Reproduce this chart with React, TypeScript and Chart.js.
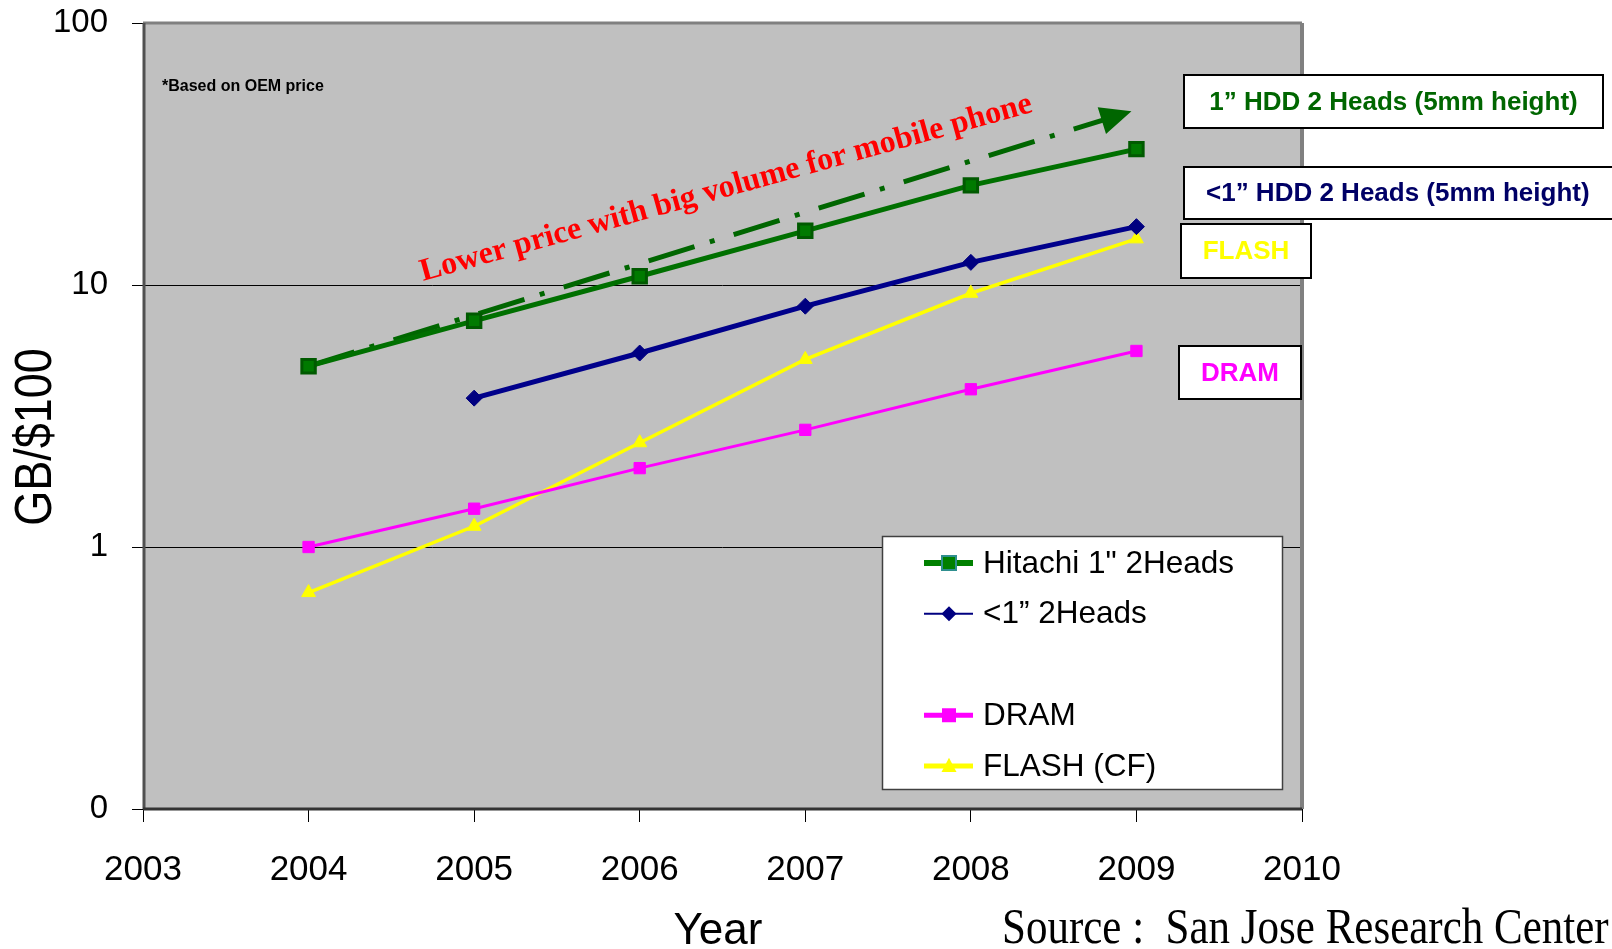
import React, { useEffect, useRef } from 'react';
import { Chart, registerables } from 'chart.js';

Chart.register(...registerables);

// ---------- data ----------
const years = [2004, 2005, 2006, 2007, 2008, 2009];
const hitachi1in = [4.9, 7.3, 10.8, 16.1, 24, 33];
const sub1in: (number | null)[] = [null, 3.7, 5.5, 8.3, 12.2, 16.7];
const dram = [1.0, 1.4, 2.0, 2.8, 4.0, 5.6];
const flashCF = [0.67, 1.2, 2.5, 5.2, 9.3, 15];

const trendX = [2004, 2008.97];
const trendY = [4.9, 46];

const xTickValues = [2003, 2004, 2005, 2006, 2007, 2008, 2009, 2010];
const xTickLabels = ['2003', '2004', '2005', '2006', '2007', '2008', '2009', '2010'];
const yTickValues = [0.1, 1, 10, 100];
const yTickLabels = ['0', '1', '10', '100'];

const seriesNames = ['Hitachi 1" 2Heads', '<1\u201D 2Heads', 'DRAM', 'FLASH (CF)'];
const legendRows = ['Hitachi 1" 2Heads', '<1\u201D 2Heads', '', 'DRAM', 'FLASH (CF)'];
const calloutLabels = [
  '1\u201D HDD 2 Heads (5mm height)',
  '<1\u201D HDD 2 Heads (5mm height)',
  'FLASH',
  'DRAM',
];
const trendLabel = 'Lower price with big volume for mobile phone';
const noteLabel = '*Based on OEM price';
const xTitle = 'Year';
const yTitle = 'GB/$100';
const sourceLabel = 'Source :  San Jose Research Center';

// ---------- styles ----------
const SANS = '"Liberation Sans", Arial, sans-serif';
const SERIF = '"Liberation Serif", "Times New Roman", serif';
const GREEN = '#007000';
const NAVY = '#00008B';
const MAGENTA = '#FF00FF';
const YELLOW = '#FFFF00';

function toPoints(vals: (number | null)[]) {
  const out: { x: number; y: number }[] = [];
  vals.forEach((v, i) => {
    if (v !== null) out.push({ x: years[i], y: v });
  });
  return out;
}

function drawMarker(ctx: CanvasRenderingContext2D, style: string, x: number, y: number, fill: string, stroke: string, size: number, bw: number) {
  ctx.save();
  ctx.fillStyle = fill;
  ctx.strokeStyle = stroke;
  ctx.lineWidth = bw;
  ctx.beginPath();
  if (style === 'rect') {
    ctx.rect(x - size / 2, y - size / 2, size, size);
  } else if (style === 'diamond') {
    ctx.moveTo(x, y - size / 2);
    ctx.lineTo(x + size / 2, y);
    ctx.lineTo(x, y + size / 2);
    ctx.lineTo(x - size / 2, y);
    ctx.closePath();
  } else if (style === 'triangle') {
    ctx.moveTo(x, y - size * 0.55);
    ctx.lineTo(x + size / 2, y + size * 0.4);
    ctx.lineTo(x - size / 2, y + size * 0.4);
    ctx.closePath();
  }
  ctx.fill();
  if (bw > 0) ctx.stroke();
  ctx.restore();
}

const decorPlugin = {
  id: 'decor',
  beforeDraw(chart: any) {
    const { ctx, chartArea: a } = chart;
    ctx.save();
    ctx.fillStyle = '#C0C0C0';
    ctx.fillRect(a.left, a.top, a.right - a.left, a.bottom - a.top);
    ctx.restore();
  },
  beforeDatasetsDraw(chart: any) {
    const { ctx, chartArea: a } = chart;
    ctx.save();
    // plot frame
    ctx.strokeStyle = '#808080';
    ctx.lineWidth = 3;
    ctx.beginPath();
    ctx.moveTo(a.left, a.top);
    ctx.lineTo(a.right, a.top);
    ctx.stroke();
    ctx.lineWidth = 4;
    ctx.beginPath();
    ctx.moveTo(a.right, a.top);
    ctx.lineTo(a.right, a.bottom);
    ctx.stroke();
    ctx.strokeStyle = '#505050';
    ctx.lineWidth = 3;
    ctx.beginPath();
    ctx.moveTo(a.left + 1, a.top);
    ctx.lineTo(a.left + 1, a.bottom);
    ctx.stroke();
    ctx.strokeStyle = '#333333';
    ctx.beginPath();
    ctx.moveTo(a.left, a.bottom);
    ctx.lineTo(a.right, a.bottom);
    ctx.stroke();

    // dash-dot trend arrow
    const xs = chart.scales.x;
    const ys = chart.scales.y;
    const x0 = xs.getPixelForValue(trendX[0]);
    const y0 = ys.getPixelForValue(trendY[0]);
    const x1 = xs.getPixelForValue(trendX[1]);
    const y1 = ys.getPixelForValue(trendY[1]);
    const ang = Math.atan2(y1 - y0, x1 - x0);
    const headLen = 31;
    const headHalf = 14;
    const bx = x1 - headLen * Math.cos(ang);
    const by = y1 - headLen * Math.sin(ang);
    ctx.strokeStyle = '#006600';
    ctx.fillStyle = '#006600';
    ctx.lineWidth = 5;
    ctx.setLineDash([48, 16, 5, 20]);
    ctx.beginPath();
    ctx.moveTo(x0, y0);
    ctx.lineTo(bx + 2 * Math.cos(ang), by + 2 * Math.sin(ang));
    ctx.stroke();
    ctx.setLineDash([]);
    ctx.beginPath();
    ctx.moveTo(x1, y1);
    ctx.lineTo(bx + headHalf * Math.sin(ang), by - headHalf * Math.cos(ang));
    ctx.lineTo(bx - headHalf * Math.sin(ang), by + headHalf * Math.cos(ang));
    ctx.closePath();
    ctx.fill();
    ctx.restore();
  },
  afterDatasetsDraw(chart: any) {
    const { ctx } = chart;
    ctx.save();
    // rotated red annotation
    ctx.translate(423, 281);
    ctx.rotate((-15.5 * Math.PI) / 180);
    ctx.font = `bold 32px ${SERIF}`;
    ctx.fillStyle = '#FF0000';
    ctx.textAlign = 'left';
    ctx.textBaseline = 'alphabetic';
    ctx.fillText(trendLabel, 0, 0);
    ctx.restore();

    ctx.save();
    ctx.font = `bold 16px ${SANS}`;
    ctx.fillStyle = '#000';
    ctx.textBaseline = 'middle';
    ctx.fillText(noteLabel, 162, 87);
    ctx.restore();
  },
  afterDraw(chart: any) {
    const { ctx } = chart;
    // ---- legend ----
    ctx.save();
    ctx.fillStyle = '#FFFFFF';
    ctx.fillRect(882, 536, 401, 254);
    ctx.strokeStyle = '#404040';
    ctx.lineWidth = 1.5;
    ctx.strokeRect(882.5, 536.5, 400, 253);
    const rowY0 = 563;
    const pitch = 50.75;
    const sym = [
      { line: '#008000', lw: 6, style: 'rect', fill: '#008000', stroke: '#2F8F8F', size: 14, bw: 2 },
      { line: '#000080', lw: 2, style: 'diamond', fill: '#000080', stroke: '#000080', size: 15, bw: 0 },
      null,
      { line: MAGENTA, lw: 5, style: 'rect', fill: MAGENTA, stroke: MAGENTA, size: 14, bw: 0 },
      { line: YELLOW, lw: 5, style: 'triangle', fill: YELLOW, stroke: YELLOW, size: 15, bw: 0 },
    ];
    ctx.font = `31.5px ${SANS}`;
    ctx.textBaseline = 'middle';
    ctx.textAlign = 'left';
    legendRows.forEach((label, i) => {
      const y = rowY0 + i * pitch;
      const s = sym[i];
      if (s) {
        ctx.strokeStyle = s.line;
        ctx.lineWidth = s.lw;
        ctx.beginPath();
        ctx.moveTo(924, y);
        ctx.lineTo(973, y);
        ctx.stroke();
        drawMarker(ctx, s.style, 949, y, s.fill, s.stroke, s.size, s.bw);
      }
      if (label) {
        ctx.fillStyle = '#000';
        ctx.fillText(label, 983, y + 1);
      }
    });
    ctx.restore();

    // ---- callout boxes ----
    const boxes = [
      { x: 1184, y: 75, w: 419, h: 53, color: '#006600', align: 'center' },
      { x: 1184, y: 167, w: 440, h: 52, color: '#000066', align: 'left' },
      { x: 1181, y: 224, w: 130, h: 54, color: YELLOW, align: 'center' },
      { x: 1179, y: 346, w: 122, h: 53, color: MAGENTA, align: 'center' },
    ];
    ctx.save();
    ctx.font = `bold 26px ${SANS}`;
    ctx.textBaseline = 'middle';
    boxes.forEach((b, i) => {
      ctx.fillStyle = '#FFFFFF';
      ctx.fillRect(b.x, b.y, b.w, b.h);
      ctx.strokeStyle = '#000';
      ctx.lineWidth = 2;
      ctx.strokeRect(b.x, b.y, b.w, b.h);
      ctx.fillStyle = b.color;
      if (b.align === 'center') {
        ctx.textAlign = 'center';
        ctx.fillText(calloutLabels[i], b.x + b.w / 2, b.y + b.h / 2 + 1);
      } else {
        ctx.textAlign = 'left';
        ctx.fillText(calloutLabels[i], 1206, b.y + b.h / 2 + 1);
      }
    });
    ctx.restore();

    // ---- axis titles & source ----
    ctx.save();
    ctx.fillStyle = '#000';
    ctx.translate(34, 437);
    ctx.rotate(-Math.PI / 2);
    ctx.scale(1, 1.15);
    ctx.font = `45px ${SANS}`;
    ctx.textAlign = 'center';
    ctx.textBaseline = 'middle';
    ctx.fillText(yTitle, 0, 2);
    ctx.restore();

    ctx.save();
    ctx.fillStyle = '#000';
    ctx.font = `44px ${SANS}`;
    ctx.textAlign = 'center';
    ctx.textBaseline = 'alphabetic';
    ctx.fillText(xTitle, 718, 944);
    ctx.restore();

    ctx.save();
    ctx.fillStyle = '#000';
    ctx.translate(1002, 943);
    ctx.scale(1, 1.2);
    ctx.font = `43px ${SERIF}`;
    ctx.textAlign = 'left';
    ctx.textBaseline = 'alphabetic';
    ctx.fillText(sourceLabel, 0, 0);
    ctx.restore();
  },
};

export default function App() {
  const canvasRef = useRef<HTMLCanvasElement | null>(null);

  useEffect(() => {
    const canvas = canvasRef.current;
    if (!canvas) return;
    const chart = new Chart(canvas, {
      type: 'line',
      data: {
        datasets: [
          {
            label: seriesNames[0],
            data: toPoints(hitachi1in),
            borderColor: GREEN,
            borderWidth: 5,
            pointStyle: 'rect',
            pointRadius: 9.5,
            pointBackgroundColor: '#007A00',
            pointBorderColor: '#005A00',
            pointBorderWidth: 3,
          },
          {
            label: seriesNames[1],
            data: toPoints(sub1in),
            borderColor: NAVY,
            borderWidth: 5,
            pointStyle: 'rectRot',
            pointRadius: 8,
            pointBackgroundColor: '#000080',
            pointBorderColor: '#000080',
            pointBorderWidth: 1,
          },
          {
            label: seriesNames[2],
            data: toPoints(dram),
            borderColor: MAGENTA,
            borderWidth: 3,
            pointStyle: 'rect',
            pointRadius: 8,
            pointBackgroundColor: MAGENTA,
            pointBorderColor: MAGENTA,
            pointBorderWidth: 1,
          },
          {
            label: seriesNames[3],
            data: toPoints(flashCF),
            borderColor: YELLOW,
            borderWidth: 3.5,
            pointStyle: 'triangle',
            pointRadius: 8,
            pointBackgroundColor: YELLOW,
            pointBorderColor: YELLOW,
            pointBorderWidth: 1,
          },
        ],
      },
      options: {
        responsive: false,
        animation: false,
        devicePixelRatio: 1,
        layout: { padding: { left: 0, top: 23, right: 310, bottom: 0 } },
        plugins: {
          legend: { display: false },
          tooltip: { enabled: false },
        },
        elements: { line: { tension: 0 } },
        scales: {
          x: {
            type: 'linear',
            min: 2003,
            max: 2010,
            afterBuildTicks: (scale: any) => {
              scale.ticks = xTickValues.map((v) => ({ value: v }));
            },
            afterFit: (scale: any) => {
              scale.height = 140;
              scale.paddingLeft = 0;
              scale.paddingRight = 0;
            },
            ticks: {
              color: '#000',
              padding: 27,
              font: { family: SANS, size: 35 },
              callback: (v: any) => {
                const i = xTickValues.indexOf(Number(v));
                return i >= 0 ? xTickLabels[i] : '';
              },
            },
            grid: {
              drawOnChartArea: false,
              drawTicks: true,
              tickLength: 13,
              tickColor: '#000',
              color: '#000',
            },
            border: { display: false },
          },
          y: {
            type: 'logarithmic',
            min: 0.1,
            max: 100,
            afterBuildTicks: (scale: any) => {
              scale.ticks = yTickValues.map((v) => ({ value: v }));
            },
            afterFit: (scale: any) => {
              scale.width = 143;
              scale.paddingTop = 0;
              scale.paddingBottom = 0;
            },
            ticks: {
              color: '#000',
              padding: 24,
              font: { family: SANS, size: 33 },
              callback: (v: any) => {
                const i = yTickValues.indexOf(Number(v));
                return i >= 0 ? yTickLabels[i] : '';
              },
            },
            grid: {
              drawTicks: true,
              tickLength: 11,
              tickColor: '#000',
              lineWidth: 1,
              color: (c: any) =>
                c.tick && (c.tick.value === 1 || c.tick.value === 10) ? '#000' : 'rgba(0,0,0,0)',
            },
            border: { display: false },
          },
        },
      },
      plugins: [decorPlugin],
    } as any);
    return () => chart.destroy();
  }, []);

  return (
    <div style={{ position: 'fixed', left: 0, top: 0, width: 1612, height: 949, background: '#fff' }}>
      <canvas ref={canvasRef} width={1612} height={949} style={{ display: 'block' }} />
    </div>
  );
}
